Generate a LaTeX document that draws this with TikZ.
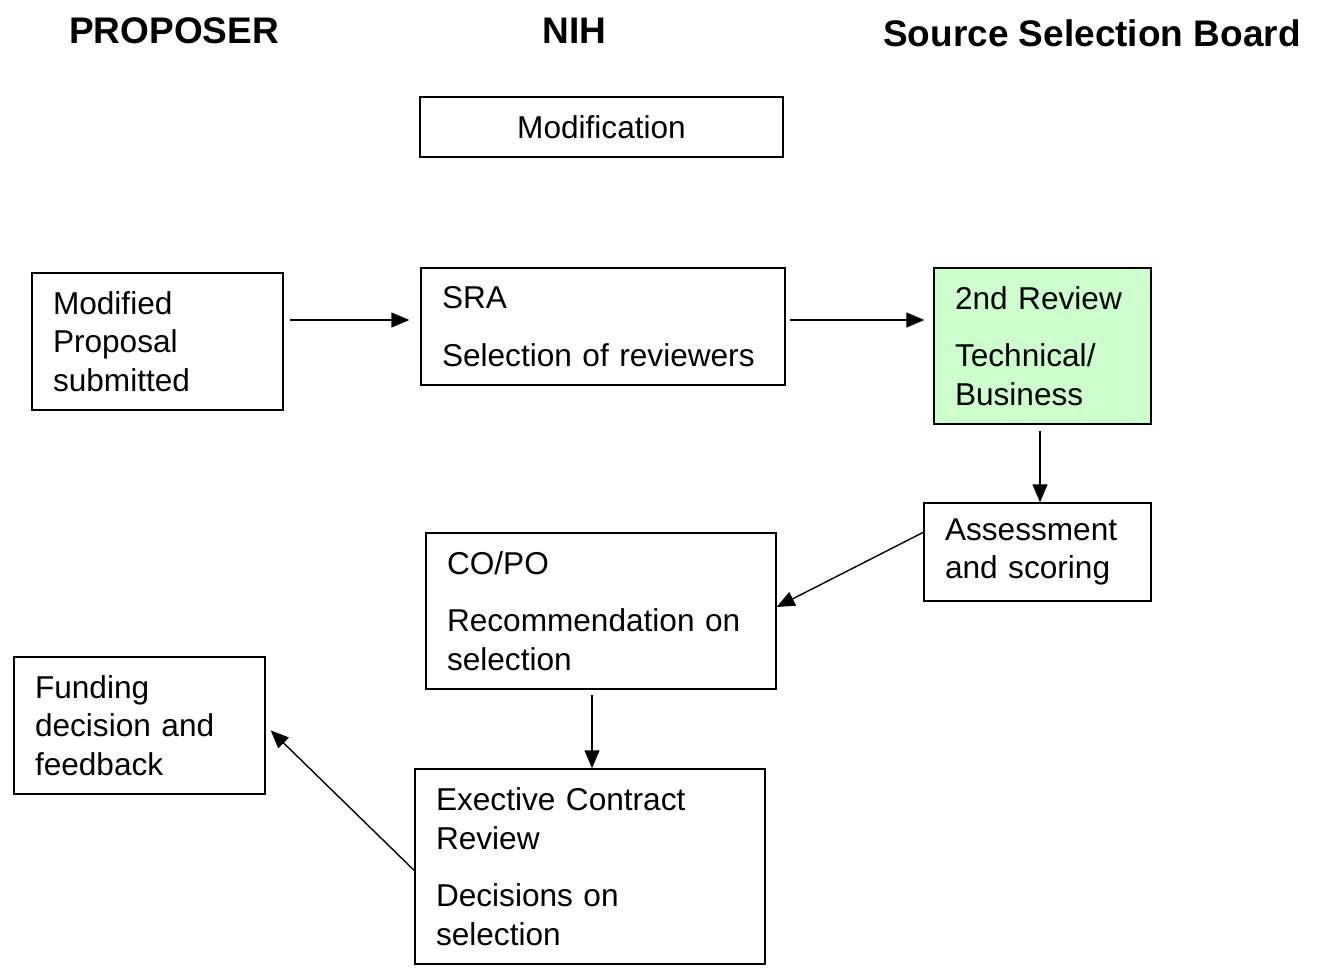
\documentclass[tikz,border=0pt]{standalone}
\usepackage{fontspec}
\setmainfont{Liberation Sans}
\usetikzlibrary{arrows.meta}
\definecolor{lightgreen}{HTML}{CCFFCC}
\begin{document}
\begin{tikzpicture}[x=1pt,y=-1pt,
  box/.style={draw, line width=1.4pt, inner xsep=21pt, inner ysep=0pt,
    font=\fontsize{31.6}{38.5}\selectfont, align=left, anchor=center},
  head/.style={font=\fontsize{37}{44}\selectfont\bfseries, anchor=base, inner sep=0pt},
  arr/.style={line width=1.4pt, -{Triangle[length=18pt,width=15pt]}}]
\useasboundingbox (0,0) rectangle (1317,971);

\node[head] (hprop) at (174,44) {PROPOSER};
\node[head] (hnih) at (574.5,44) {NIH};
\node[head] (hssb) at (1092,47) {Source Selection Board};

\node[box, align=center, inner xsep=0pt, minimum width=363, minimum height=60] (modif) at (601.5,127) {Modification};

\node[box, text width=209, minimum height=137] (mod) at (157.5,341.5)
  {Modified\\Proposal\\submitted};
\node[box, text width=322, minimum height=117] (sra) at (603,326.5)
  {SRA\\[19pt]Selection of reviewers};
\node[box, fill=lightgreen, text width=175, minimum height=156] (rev) at (1042.5,346)
  {2nd Review\\[19pt]Technical/\\Business};
\node[box, text width=185, minimum height=98] (assess) at (1037.5,552)
  {Assessment\\and scoring};
\node[box, text width=308, minimum height=156] (copo) at (601,611)
  {CO/PO\\[19pt]Recommendation on\\selection};
\node[box, text width=209, minimum height=137] (fund) at (139.5,725.5)
  {Funding\\decision and\\feedback};
\node[box, text width=308, minimum height=195] (exec) at (590,866.5)
  {Exective Contract\\Review\\[19pt]Decisions on\\selection};

\draw[arr, shorten <=6pt, shorten >=11pt] (mod.east |- 0,320) -- (sra.west |- 0,320);
\draw[arr, shorten <=4pt, shorten >=9pt] (sra.east |- 0,320) -- (rev.west |- 0,320);
\draw[arr, shorten <=6pt] (rev.south -| 1040,0) -- (assess.north -| 1040,0);
\draw[arr] ([yshift=-30pt]assess.north west) -- ([yshift=4pt]copo.east);
\draw[arr, shorten <=5pt] (copo.south -| 592,0) -- (exec.north -| 592,0);
\draw[arr, shorten >=7pt] ([yshift=-4pt]exec.west) -- (fund.east);
\end{tikzpicture}
\end{document}
